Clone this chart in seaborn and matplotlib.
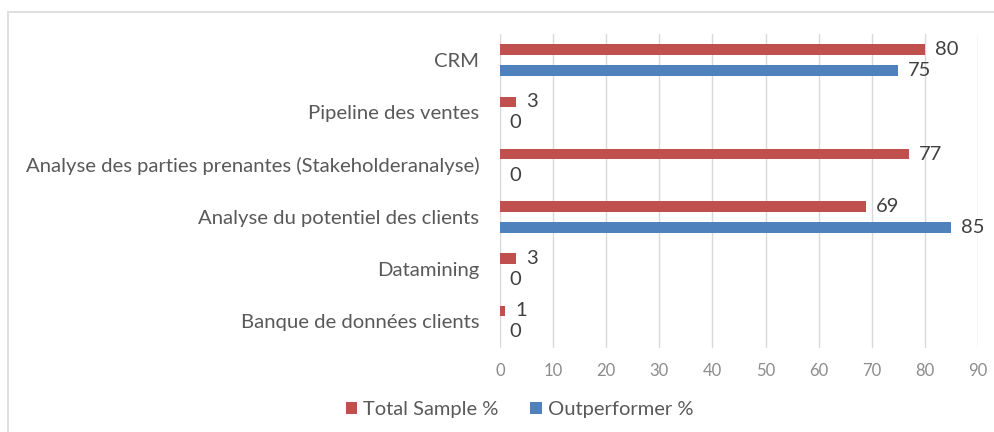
import pandas as pd
import matplotlib.pyplot as plt
import seaborn as sns
from matplotlib.patches import Rectangle

sns.set_theme(style='white')
plt.rcParams['font.family'] = ['Lato', 'DejaVu Sans']

# données
categories = ['CRM', 'Pipeline des ventes',
              'Analyse des parties prenantes (Stakeholderanalyse)',
              'Analyse du potentiel des clients', 'Datamining',
              'Banque de données clients']
total_sample = [80, 3, 77, 69, 3, 1]
outperformer = [75, 0, 0, 85, 0, 0]
series = ['Total Sample %', 'Outperformer %']
x_ticks = [0, 10, 20, 30, 40, 50, 60, 70, 80, 90]

df = pd.DataFrame({'cat': categories * 2,
                   'val': total_sample + outperformer,
                   'serie': [series[0]] * 6 + [series[1]] * 6})

colors = {'Total Sample %': '#C0504D', 'Outperformer %': '#4F81BD'}

fig = plt.figure(figsize=(9.95, 4.32), dpi=100)
ax = fig.add_axes([500 / 995, 1 - 347.5 / 432, 478 / 995, 313.5 / 432])

sns.barplot(data=df, y='cat', x='val', hue='serie', order=categories,
            hue_order=series, palette=colors, orient='h', width=0.8, gap=0.5,
            saturation=1, linewidth=0, ax=ax)

for c in ax.containers:
    ax.bar_label(c, labels=[f'{v:.0f}' for v in c.datavalues], padding=7,
                 fontsize=14.5, color='#404040')

ax.set_xlim(0, 90)
ax.set_xticks(x_ticks)
ax.set_xlabel('')
ax.set_ylabel('')
ax.grid(axis='x', color='#D9D9D9', linewidth=1)
ax.set_axisbelow(True)
for s in ax.spines.values():
    s.set_visible(False)
ax.tick_params(axis='y', length=0, pad=15, labelsize=14.6, labelcolor='#595959')
ax.tick_params(axis='x', length=0, pad=11, labelsize=12, labelcolor='#8C8C8C')

ax.get_legend().remove()
h, l = ax.get_legend_handles_labels()
fig.legend(h, l, loc='center', bbox_to_anchor=(0.522, 1 - 410 / 432), ncol=2,
           frameon=False, fontsize=14.5, handlelength=0.55, handleheight=0.55,
           handletextpad=0.3, columnspacing=1.6, labelcolor='#595959')

# cadre gris
fig.patches.append(Rectangle((8 / 995, -0.1), 1.5, 1 - 12 / 432 + 0.1,
                             transform=fig.transFigure, fill=False,
                             edgecolor='#D9D9D9', linewidth=1.2))

plt.savefig('out.png', dpi=100)
